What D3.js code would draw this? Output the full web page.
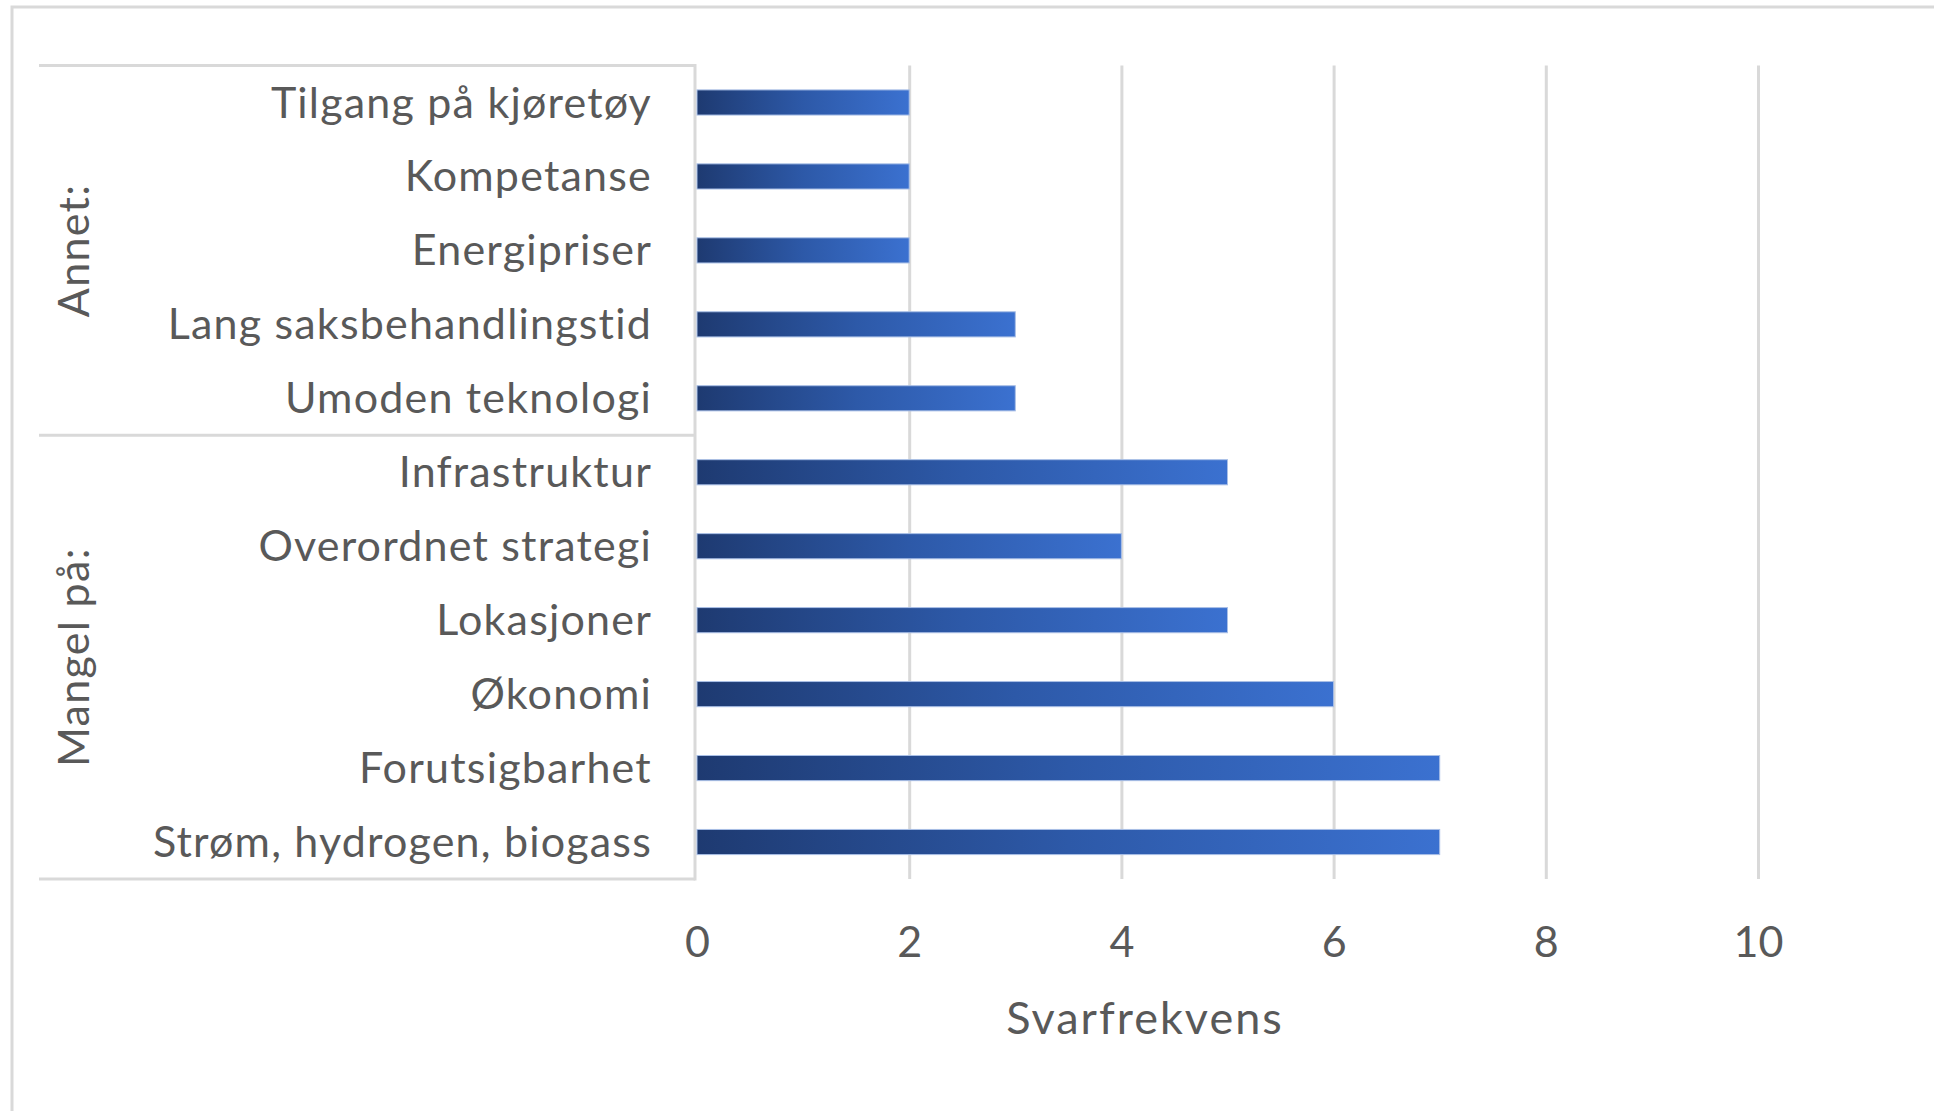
<!DOCTYPE html>
<html>
<head>
<meta charset="utf-8">
<script src="https://cdn.jsdelivr.net/npm/d3@7"></script>
<style>
  html, body { margin: 0; padding: 0; background: #fff; overflow: hidden; }
  text { font-family: Lato, "Open Sans", sans-serif; fill: #595959; }
</style>
</head>
<body>
<svg id="chart" width="1934" height="1111"></svg>
<script>
// Categories listed top to bottom
const categories = [
  "Tilgang på kjøretøy",
  "Kompetanse",
  "Energipriser",
  "Lang saksbehandlingstid",
  "Umoden teknologi",
  "Infrastruktur",
  "Overordnet strategi",
  "Lokasjoner",
  "Økonomi",
  "Forutsigbarhet",
  "Strøm, hydrogen, biogass"
];
const values = [2, 2, 2, 3, 3, 5, 4, 5, 6, 7, 7];
const groupNames = ["Annet:", "Mangel på:"];
const groupMembers = [
  ["Tilgang på kjøretøy", "Kompetanse", "Energipriser", "Lang saksbehandlingstid", "Umoden teknologi"],
  ["Infrastruktur", "Overordnet strategi", "Lokasjoner", "Økonomi", "Forutsigbarhet", "Strøm, hydrogen, biogass"]
];
const xTicks = [0, 2, 4, 6, 8, 10];
const xTitle = "Svarfrekvens";

const svg = d3.select("#chart");
const grid = "#d9d9d9";

const plotTop = 65.5, plotBottom = 879;
const x = d3.scaleLinear().domain([0, 12]).range([697, 697 + 12 * 106.1]);
const y = d3.scaleBand().domain(categories).range([plotTop, plotBottom]).paddingInner(0.66).paddingOuter(0.33);

// outer chart border (clipped on right and bottom)
svg.append("rect")
  .attr("x", 12).attr("y", 7).attr("width", 2100).attr("height", 1300)
  .attr("fill", "none").attr("stroke", grid).attr("stroke-width", 3);

// gradient
const defs = svg.append("defs");
const grad = defs.append("linearGradient").attr("id", "barGrad")
  .attr("x1", "0%").attr("x2", "100%").attr("y1", "0%").attr("y2", "0%");
grad.append("stop").attr("offset", "0%").attr("stop-color", "#1e3a71");
grad.append("stop").attr("offset", "50%").attr("stop-color", "#2d59a8");
grad.append("stop").attr("offset", "100%").attr("stop-color", "#3b71d0");

// gridlines via axis
const gridAxis = d3.axisBottom(x).tickValues([2, 4, 6, 8, 10, 12]).tickSize(plotBottom - plotTop).tickFormat("");
svg.append("g").attr("transform", `translate(0,${plotTop})`).call(gridAxis)
  .call(g => g.select(".domain").remove())
  .call(g => g.selectAll("line").attr("stroke", grid).attr("stroke-width", 3));

// tick labels
const labelAxis = d3.axisBottom(x).tickValues(xTicks).tickSize(0).tickPadding(0).tickFormat(d3.format("d"));
svg.append("g").attr("transform", `translate(0,${plotBottom})`).call(labelAxis)
  .call(g => g.select(".domain").remove())
  .call(g => g.selectAll("text")
    .attr("y", 63).attr("dy", "0.35em")
    .style("font-size", "43px").style("fill", "#595959").style("font-family", "Lato, sans-serif"));

// category box lines
const boxLeft = 39, boxRight = 695;
const sepY = [plotTop, (y(groupMembers[0][groupMembers[0].length - 1]) + y.bandwidth() + y(groupMembers[1][0])) / 2, plotBottom];
sepY.forEach(v => {
  svg.append("line").attr("x1", boxLeft).attr("x2", boxRight).attr("y1", v).attr("y2", v)
    .attr("stroke", grid).attr("stroke-width", 3);
});
svg.append("line").attr("x1", boxRight).attr("x2", boxRight).attr("y1", plotTop - 1.5).attr("y2", plotBottom + 1.5)
  .attr("stroke", grid).attr("stroke-width", 3);

// bars
svg.append("g").selectAll("rect").data(categories).join("rect")
  .attr("x", x(0))
  .attr("y", d => y(d))
  .attr("width", (d, i) => x(values[i]) - x(0))
  .attr("height", y.bandwidth())
  .attr("fill", "url(#barGrad)")
  .attr("stroke", "#a9bfe6").attr("stroke-width", 1);

// category labels
svg.append("g").selectAll("text").data(categories).join("text")
  .attr("x", 652)
  .attr("y", d => y(d) + y.bandwidth() / 2)
  .attr("dy", "0.35em")
  .attr("text-anchor", "end")
  .style("font-size", "43px")
  .style("letter-spacing", "1.2px")
  .text(d => d);

// group labels
groupNames.forEach((name, gi) => {
  const mem = groupMembers[gi];
  const top = y(mem[0]);
  const bot = y(mem[mem.length - 1]) + y.bandwidth();
  const cy = (top + bot) / 2;
  svg.append("text")
    .attr("transform", `translate(74,${cy}) rotate(-90)`)
    .attr("text-anchor", "middle")
    .attr("dy", "0.35em")
    .style("font-size", "43px")
    .style("letter-spacing", "1.3px")
    .text(name);
});

// axis title
svg.append("text")
  .attr("x", 1145).attr("y", 1018).attr("dy", "0.35em")
  .attr("text-anchor", "middle")
  .style("font-size", "45px")
  .style("letter-spacing", "2px")
  .text(xTitle);
</script>
</body>
</html>
